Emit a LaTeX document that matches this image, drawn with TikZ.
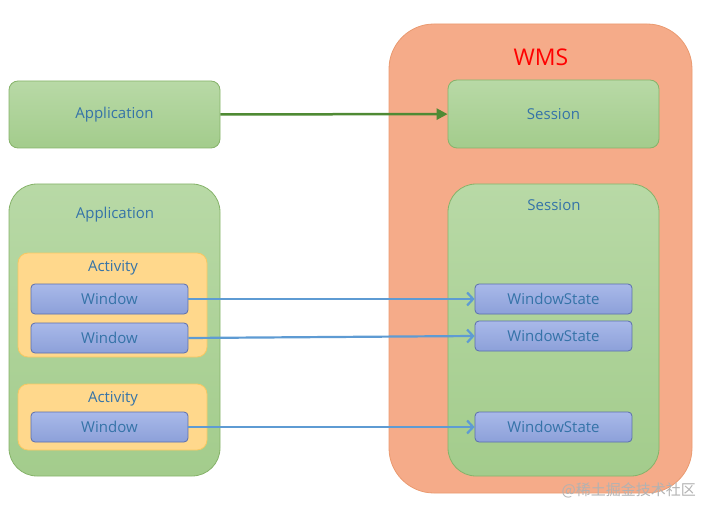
\documentclass[tikz,border=0pt]{standalone}
\usepackage{fontspec}
\setmainfont{Open Sans}
\newfontfamily\cjk{Noto Sans CJK SC}
\usetikzlibrary{arrows.meta}

\definecolor{labelblue}{HTML}{3573A8}
\definecolor{greenline}{HTML}{86B36A}
\definecolor{greentop}{HTML}{B8D9A6}
\definecolor{greenbot}{HTML}{A3CC8C}
\definecolor{wmsfill}{HTML}{F5AB89}
\definecolor{wmsline}{HTML}{EA9A70}
\definecolor{actfill}{HTML}{FFD88C}
\definecolor{actline}{HTML}{F7C862}
\definecolor{wintop}{HTML}{A9B9E9}
\definecolor{winbot}{HTML}{8CA0D9}
\definecolor{winline}{HTML}{5A6EAE}
\definecolor{arrowgreen}{HTML}{4F8A34}
\definecolor{arrowblue}{HTML}{5E9BD3}

\begin{document}
\begin{tikzpicture}[x=1pt,y=-1pt,
	txt/.style={text=labelblue,font=\fontsize{15}{18}\selectfont,inner sep=0pt},
	greenbox/.style={draw=greenline,line width=0.8pt,top color=greentop,bottom color=greenbot,inner sep=0pt},
	actbox/.style={draw=actline,fill=actfill,line width=0.8pt,rounded corners=10pt,minimum width=189pt,inner sep=0pt},
	winbox/.style={draw=winline,line width=0.8pt,top color=wintop,bottom color=winbot,rounded corners=4pt,minimum width=157pt,minimum height=30pt,inner sep=0pt,txt},
	bluearrow/.style={draw=arrowblue,line width=2.2pt,-{Straight Barb[length=6pt,width=13pt]}}]
\useasboundingbox (0,0) rectangle (704,513);

% WMS side
\node[draw=wmsline,fill=wmsfill,line width=0.8pt,rounded corners=45pt,minimum width=303pt,minimum height=469pt] (wms) at (540.5,258.5) {};
\node[text=red,font=\fontsize{23}{27}\selectfont,inner sep=0pt] (wmstitle) at (541,57) {WMS};

\node[greenbox,rounded corners=9pt,minimum width=211pt,minimum height=68pt,txt] (sess1) at (553.5,114) {Session};
\node[greenbox,rounded corners=28pt,minimum width=211pt,minimum height=292pt] (sess2) at (553.5,330) {};
\node[txt] (sess2title) at (554,205) {Session};

\node[winbox] (ws1) at (553.5,299) {WindowState};
\node[winbox] (ws2) at (553.5,336) {WindowState};
\node[winbox] (ws3) at (553.5,427) {WindowState};

% App side
\node[greenbox,rounded corners=9pt,minimum width=211pt,minimum height=67pt,txt] (app1) at (114.5,114.5) {Application};
\node[greenbox,rounded corners=28pt,minimum width=211pt,minimum height=292pt] (app2) at (114.5,330) {};
\node[txt] (app2title) at (115,215) {Application};

\node[actbox,minimum height=104pt] (act1) at (112.5,305) {};
\node[txt] (act1title) at (113,268) {Activity};
\node[winbox] (win1) at (109.5,299) {Window};
\node[winbox] (win2) at (109.5,338) {Window};

\node[actbox,minimum height=66pt] (act2) at (112.5,417) {};
\node[txt] (act2title) at (113,399) {Activity};
\node[winbox] (win3) at (109.5,427) {Window};

% connectors
\draw[arrowgreen,line width=2.5pt,-{Triangle[length=11pt,width=11pt]}] (app1) -- (sess1);
\draw[bluearrow] (win1.east) -- (ws1.west);
\draw[bluearrow] (win2.east) -- (ws2.west);
\draw[bluearrow] (win3.east) -- (ws3.west);

\node[text=black!30,font=\cjk\fontsize{15}{17}\selectfont,inner sep=0pt,anchor=east] (mark) at (696,490) {@稀土掘金技术社区};
\end{tikzpicture}
\end{document}
